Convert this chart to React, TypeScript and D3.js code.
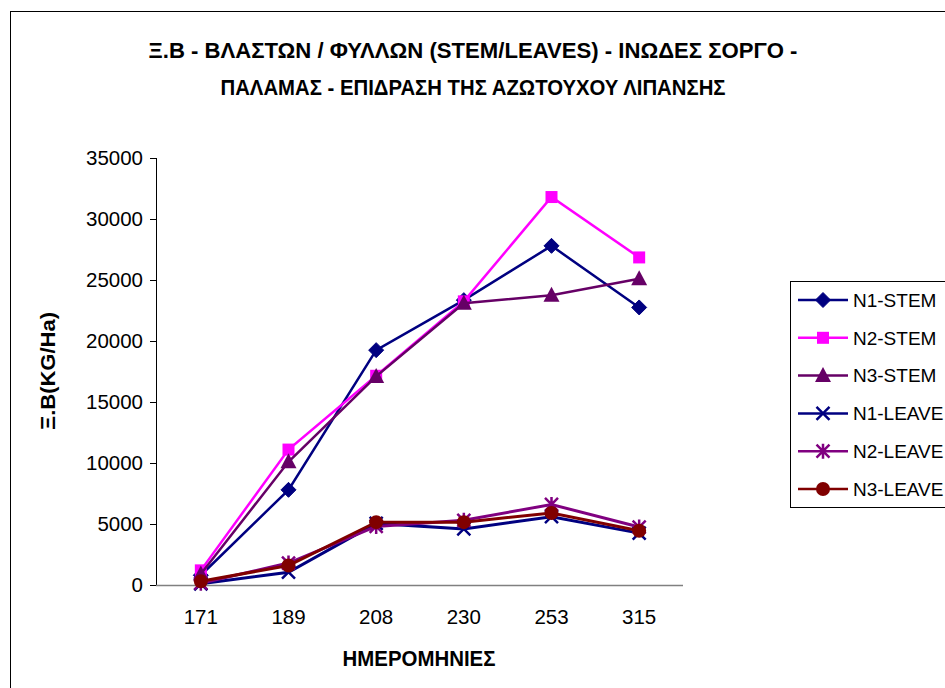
import React from "react";
import * as d3 from "d3";

const categories = ["171", "189", "208", "230", "253", "315"];
const yTicks = [0, 5000, 10000, 15000, 20000, 25000, 30000, 35000];

const n1Stem = [800, 7800, 19250, 23350, 27800, 22750];
const n2Stem = [1200, 11100, 17150, 23250, 31800, 26850];
const n3Stem = [900, 10100, 17100, 23100, 23750, 25100];
const n1Leave = [100, 1050, 5050, 4600, 5600, 4250];
const n2Leave = [150, 1800, 4800, 5300, 6600, 4750];
const n3Leave = [300, 1600, 5150, 5150, 5900, 4450];

const seriesNames = ["N1-STEM", "N2-STEM", "N3-STEM", "N1-LEAVE", "N2-LEAVE", "N3-LEAVE"];
const seriesValues = [n1Stem, n2Stem, n3Stem, n1Leave, n2Leave, n3Leave];
const seriesColors = ["#000080", "#FF00FF", "#660066", "#000080", "#800080", "#800000"];
const seriesMarkers = ["diamond", "square", "triangle", "x", "star", "circle"];

const titleLines = [
  "Ξ.Β - ΒΛΑΣΤΩΝ / ΦΥΛΛΩΝ (STEM/LEAVES) - ΙΝΩΔΕΣ ΣΟΡΓΟ -",
  "ΠΑΛΑΜΑΣ - ΕΠΙΔΡΑΣΗ ΤΗΣ ΑΖΩΤΟΥΧΟΥ ΛΙΠΑΝΣΗΣ",
];
const yTitle = "Ξ.Β(KG/Ha)";
const xTitle = "ΗΜΕΡΟΜΗΝΙΕΣ";

const FONT = "'Liberation Sans', Arial, sans-serif";

function Marker({ type, x, y, color }: { type: string; x: number; y: number; color: string }) {
  switch (type) {
    case "diamond":
      return <path transform={`translate(${x},${y})`} d={`M0,-7.5L7.5,0L0,7.5L-7.5,0Z`} fill={color} stroke={color} strokeWidth={1} />;
    case "square":
      return <rect x={x - 6} y={y - 6} width={12} height={12} fill={color} />;
    case "triangle":
      return <path transform={`translate(${x},${y})`} d={`M0,-8.5L8,6.5L-8,6.5Z`} fill={color} />;
    case "x":
      return (
        <path transform={`translate(${x},${y})`} d="M-6.5,-6.5L6.5,6.5M-6.5,6.5L6.5,-6.5" stroke={color} strokeWidth={2.5} fill="none" />
      );
    case "star":
      return (
        <path
          transform={`translate(${x},${y})`}
          d="M-6.5,-6.5L6.5,6.5M-6.5,6.5L6.5,-6.5M0,-7.5L0,7.5"
          stroke={color}
          strokeWidth={2.5}
          fill="none"
        />
      );
    case "circle":
      return <circle cx={x} cy={y} r={7} fill={color} />;
    default:
      return null;
  }
}

export default function App() {
  const W = 945;
  const H = 688;
  const x = d3.scalePoint<string>().domain(categories).range([157, 683]).padding(0.5);
  const y = d3.scaleLinear().domain([0, 35000]).range([585, 158]);
  const line = d3
    .line<number>()
    .x((_, i) => x(categories[i]) as number)
    .y((d) => y(d));

  const legendX = 790;
  const legendY = 281;
  const legendRows = seriesNames.map((_, i) => 300 + i * 37.8);

  return (
    <svg
      width={W}
      height={H}
      style={{ position: "absolute", left: 0, top: 0, background: "#fff" }}
      fontFamily={FONT}
    >
      <rect x={0} y={0} width={W} height={H} fill="#fff" />
      <rect x={10.5} y={11.5} width={960} height={720} fill="none" stroke="#000" strokeWidth={1} />

      {titleLines.map((t, i) => (
        <text
          key={i}
          x={473}
          y={50 + i * 37}
          dy="0.36em"
          textAnchor="middle"
          fontWeight="bold"
          fontSize={21.5}
          textLength={i === 0 ? 649 : 505}
          lengthAdjust="spacingAndGlyphs"
        >
          {t}
        </text>
      ))}

      {/* y axis */}
      <line x1={156.5} x2={156.5} y1={158} y2={585} stroke="#000" strokeWidth={1} />
      {yTicks.map((t) => (
        <g key={t}>
          <line x1={150} x2={156.5} y1={Math.round(y(t)) + 0.5} y2={Math.round(y(t)) + 0.5} stroke="#000" />
          <text x={143} y={y(t)} dy="0.36em" textAnchor="end" fontSize={20.5}>
            {t}
          </text>
        </g>
      ))}
      {/* x axis */}
      <line x1={156} x2={683} y1={585.5} y2={585.5} stroke="#808080" strokeWidth={1.5} />
      {categories.map((c) => (
        <text key={c} x={x(c)} y={617} dy="0.36em" textAnchor="middle" fontSize={20.5}>
          {c}
        </text>
      ))}

      <text
        transform={`translate(47,371) rotate(-90)`}
        textAnchor="middle"
        dy="0.36em"
        fontWeight="bold"
        fontSize={21}
        textLength={118}
        lengthAdjust="spacingAndGlyphs"
      >
        {yTitle}
      </text>
      <text
        x={419}
        y={658}
        dy="0.36em"
        textAnchor="middle"
        fontWeight="bold"
        fontSize={21.5}
        textLength={153}
        lengthAdjust="spacingAndGlyphs"
      >
        {xTitle}
      </text>

      {seriesValues.map((vals, si) => (
        <g key={si}>
          <path d={line(vals) || ""} fill="none" stroke={seriesColors[si]} strokeWidth={si >= 3 ? 3 : 2.5} />
          {vals.map((v, i) => (
            <Marker key={i} type={seriesMarkers[si]} x={x(categories[i]) as number} y={y(v)} color={seriesColors[si]} />
          ))}
        </g>
      ))}

      {/* legend */}
      <rect x={legendX + 0.5} y={legendY + 0.5} width={200} height={226} fill="#fff" stroke="#000" strokeWidth={1} />
      {seriesNames.map((n, i) => (
        <g key={n}>
          <line x1={798} x2={848} y1={legendRows[i]} y2={legendRows[i]} stroke={seriesColors[i]} strokeWidth={2.5} />
          <Marker type={seriesMarkers[i]} x={823} y={legendRows[i]} color={seriesColors[i]} />
          <text x={853} y={legendRows[i]} dy="0.36em" fontSize={19}>
            {n}
          </text>
        </g>
      ))}
    </svg>
  );
}
